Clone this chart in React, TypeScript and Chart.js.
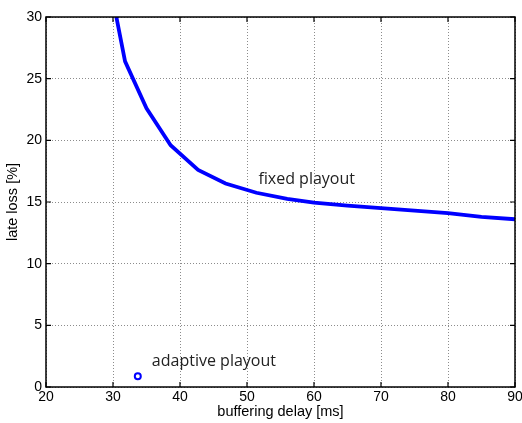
import React, { useEffect, useRef } from "react";
import { Chart, registerables } from "chart.js";

Chart.register(...registerables);

const fixedDelay = [30.5, 31.8, 35.0, 38.6, 42.7, 46.8, 51.4, 56, 60, 65, 70, 75, 80, 85, 90];
const fixedLoss = [30.0, 26.4, 22.6, 19.6, 17.6, 16.5, 15.75, 15.25, 14.95, 14.7, 14.5, 14.3, 14.1, 13.8, 13.6];
const adaptiveDelay = [33.7];
const adaptiveLoss = [0.87];
const xTicks = [20, 30, 40, 50, 60, 70, 80, 90];
const yTicks = [0, 5, 10, 15, 20, 25, 30];
const annotations = [
  { text: "fixed playout", x: 51.7, y: 16.5 },
  { text: "adaptive playout", x: 35.8, y: 1.68 },
];

const framePlugin = {
  id: "frame",
  afterDatasetsDraw(chart: any) {
    const { ctx, chartArea, scales } = chart;
    const { left, right, top, bottom } = chartArea;
    ctx.save();
    ctx.strokeStyle = "#000";
    ctx.lineWidth = 1.5;
    ctx.strokeRect(left, top, right - left, bottom - top);
    ctx.lineWidth = 1.2;
    const L = 5;
    ctx.beginPath();
    for (const v of xTicks) {
      const px = scales.x.getPixelForValue(v);
      ctx.moveTo(px, bottom);
      ctx.lineTo(px, bottom - L);
      ctx.moveTo(px, top);
      ctx.lineTo(px, top + L);
    }
    for (const v of yTicks) {
      const py = scales.y.getPixelForValue(v);
      ctx.moveTo(left, py);
      ctx.lineTo(left + L, py);
      ctx.moveTo(right, py);
      ctx.lineTo(right - L, py);
    }
    ctx.stroke();
    ctx.fillStyle = "#222";
    ctx.font = "16px 'Open Sans'";
    ctx.textAlign = "left";
    ctx.textBaseline = "alphabetic";
    for (const a of annotations) {
      ctx.fillText(a.text, scales.x.getPixelForValue(a.x), scales.y.getPixelForValue(a.y));
    }
    ctx.restore();
  },
};

export default function App() {
  const ref = useRef<HTMLCanvasElement>(null);
  useEffect(() => {
    document.body.style.margin = "0";
    const chart = new Chart(ref.current!, {
      type: "line",
      data: {
        datasets: [
          {
            label: "fixed playout",
            data: fixedDelay.map((x, i) => ({ x, y: fixedLoss[i] })),
            borderColor: "#0000ff",
            borderWidth: 3.8,
            pointRadius: 0,
            fill: false,
            tension: 0,
          },
          {
            label: "adaptive playout",
            data: adaptiveDelay.map((x, i) => ({ x, y: adaptiveLoss[i] })),
            showLine: false,
            borderColor: "#0000ff",
            backgroundColor: "#ffffff",
            pointRadius: 3,
            pointBorderWidth: 2,
            pointBorderColor: "#0000ff",
            pointBackgroundColor: "#ffffff",
          },
        ],
      },
      options: {
        animation: false,
        responsive: false,
        layout: { padding: { top: 17, right: 7, left: 0, bottom: 0 } },
        plugins: { legend: { display: false }, tooltip: { enabled: false } },
        scales: {
          x: {
            type: "linear",
            min: 20,
            max: 90,
            afterBuildTicks: (s: any) => {
              s.ticks = xTicks.map((v) => ({ value: v }));
            },
            afterFit: (s: any) => {
              s.height = 36;
              s.paddingRight = 0;
              s.paddingLeft = 0;
            },
            border: { display: false, dash: [1, 2] },
            grid: { color: "#8c8c8c", lineWidth: 1, drawTicks: false },
            ticks: { color: "#000", padding: 2, font: { family: "'Liberation Sans', Arial", size: 14 }, maxRotation: 0 },
            title: { display: true, text: "buffering delay [ms]", color: "#000", padding: { top: 0, bottom: 2 }, font: { family: "'Liberation Sans', Arial", size: 14.5 } },
          },
          y: {
            type: "linear",
            min: 0,
            max: 30,
            afterBuildTicks: (s: any) => {
              s.ticks = yTicks.map((v) => ({ value: v }));
            },
            afterFit: (s: any) => {
              s.width = 46;
              s.paddingTop = 0;
              s.paddingBottom = 0;
            },
            border: { display: false, dash: [1, 2] },
            grid: { color: "#8c8c8c", lineWidth: 1, drawTicks: false },
            ticks: { color: "#000", padding: 4, font: { family: "'Liberation Sans', Arial", size: 14 } },
            title: { display: true, text: "late loss [%]", color: "#000", padding: { top: 4, bottom: 0 }, font: { family: "'Liberation Sans', Arial", size: 14.5 } },
          },
        },
      },
      plugins: [framePlugin],
    } as any);
    return () => chart.destroy();
  }, []);
  return (
    <div style={{ width: 522, height: 423, background: "#fff" }}>
      <canvas ref={ref} width={522} height={423} />
    </div>
  );
}
